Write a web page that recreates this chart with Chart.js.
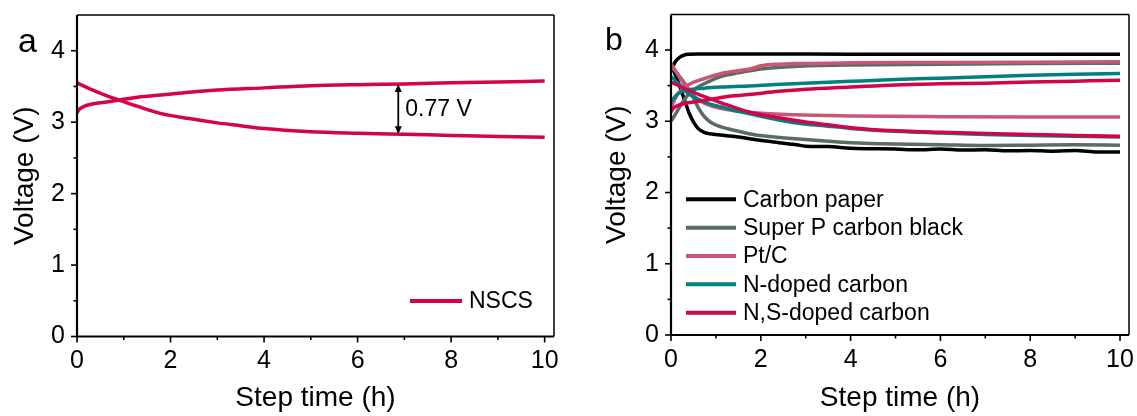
<!DOCTYPE html>
<html><head><meta charset="utf-8">
<script src="https://cdn.jsdelivr.net/npm/chart.js@4.4.1/dist/chart.umd.min.js"></script>
<style>
html,body{margin:0;padding:0;background:#fff;}
#wrap{position:relative;width:1137px;height:416px;overflow:hidden;}
#a{position:absolute;left:0;top:0;}
#b{position:absolute;left:568px;top:0;}
</style></head><body>
<div id="wrap"><canvas id="a" width="568" height="416"></canvas><canvas id="b" width="569" height="416"></canvas></div>
<script>
// ---- tick labels ----
const xTicks = [0, 2, 4, 6, 8, 10];
const yTicks = [0, 1, 2, 3, 4];
const xTitle = 'Step time (h)';
const yTitle = 'Voltage (V)';

// ---- NSCS / N,S-doped carbon ----
const nsChargeT = [0, 0.05, 0.15, 0.3, 0.6, 0.9, 1.3, 1.8, 2.4, 3, 4, 5, 6, 7, 8, 9, 10];
const nsChargeV = [3.13, 3.18, 3.22, 3.25, 3.28, 3.31, 3.35, 3.38, 3.42, 3.45, 3.48, 3.51, 3.525, 3.535, 3.55, 3.563, 3.576];
const nsDischT = [0, 0.3, 0.6, 0.9, 1.3, 1.8, 2.4, 3, 3.5, 4, 5, 6, 7, 8, 9, 10];
const nsDischV = [3.55, 3.46, 3.38, 3.31, 3.22, 3.12, 3.05, 2.99, 2.95, 2.91, 2.866, 2.845, 2.83, 2.815, 2.80, 2.788];

// ---- Carbon paper ----
const cpChargeT = [0, 0.05, 0.1, 0.2, 0.3, 0.4, 0.6, 1, 2, 4, 6, 8, 10];
const cpChargeV = [3.70, 3.78, 3.84, 3.90, 3.93, 3.94, 3.945, 3.945, 3.945, 3.94, 3.94, 3.94, 3.94];
const cpDischT = [0, 0.1, 0.2, 0.3, 0.4, 0.5, 0.6, 0.75, 0.9, 1.2, 1.5, 1.9, 2.4, 2.8, 3.0, 3.5, 4, 4.5, 5, 5.5, 6, 6.5, 7, 7.5, 8, 8.5, 9, 9.5, 10];
const cpDischV = [3.78, 3.65, 3.48, 3.30, 3.12, 2.99, 2.90, 2.84, 2.82, 2.80, 2.78, 2.74, 2.70, 2.67, 2.65, 2.645, 2.62, 2.615, 2.61, 2.60, 2.61, 2.595, 2.60, 2.585, 2.59, 2.58, 2.59, 2.57, 2.57];

// ---- Super P carbon black ----
const spChargeT = [0, 0.1, 0.24, 0.38, 0.55, 0.75, 1.12, 1.5, 1.86, 2.3, 2.75, 4, 6, 8, 10];
const spChargeV = [3.0, 3.1, 3.25, 3.37, 3.46, 3.53, 3.63, 3.68, 3.72, 3.75, 3.77, 3.79, 3.80, 3.81, 3.815];
const spDischT = [0, 0.1, 0.2, 0.38, 0.5, 0.6, 0.75, 0.9, 1.12, 1.5, 1.86, 2.3, 2.85, 3.5, 4, 5, 6, 7, 8, 9, 10];
const spDischV = [3.75, 3.70, 3.62, 3.46, 3.33, 3.20, 3.06, 2.98, 2.92, 2.86, 2.81, 2.78, 2.75, 2.72, 2.70, 2.68, 2.67, 2.66, 2.665, 2.67, 2.665];

// ---- Pt/C ----
const ptChargeT = [0, 0.08, 0.16, 0.38, 0.75, 1.12, 1.5, 1.8, 2.0, 2.3, 2.75, 4, 6, 8, 10];
const ptChargeV = [3.20, 3.30, 3.39, 3.51, 3.60, 3.67, 3.71, 3.74, 3.78, 3.80, 3.81, 3.82, 3.825, 3.83, 3.835];
const ptDischT = [0, 0.16, 0.38, 0.55, 0.75, 1.12, 1.86, 2.75, 4, 6, 8, 10];
const ptDischV = [3.81, 3.65, 3.44, 3.33, 3.25, 3.18, 3.12, 3.09, 3.075, 3.065, 3.06, 3.06];

// ---- N-doped carbon ----
const ndChargeT = [0, 0.16, 0.38, 0.75, 1.12, 1.86, 2.85, 4, 5, 6, 7, 8, 9, 10];
const ndChargeV = [3.28, 3.39, 3.44, 3.465, 3.48, 3.50, 3.53, 3.56, 3.585, 3.605, 3.625, 3.645, 3.66, 3.67];
const ndDischT = [0, 0.24, 0.38, 0.75, 1.12, 1.86, 2.75, 3.5, 4, 5, 6, 7, 8, 9, 10];
const ndDischV = [3.63, 3.48, 3.39, 3.27, 3.20, 3.09, 2.98, 2.93, 2.90, 2.86, 2.835, 2.815, 2.80, 2.79, 2.78];

// ---- annotation (panel a) ----
const gapArrow = { x: 6.87, top: 3.535, bottom: 2.83, label: '0.77 V' };

const C_NS = '#d3044b', C_PT = '#cd5574', C_SP = '#5a6c63', C_ND = '#008080', C_CP = '#000000';
const FONT = "'Liberation Sans', Arial, sans-serif";

function pts(T, V) { return T.map((t, i) => ({ x: t, y: V[i] })); }
function ds(label, T, V, color, order, showLegend, width) {
  return { label, data: pts(T, V), borderColor: color, backgroundColor: color, borderWidth: width,
    pointRadius: 0, cubicInterpolationMode: 'monotone', fill: false, order, showLegend };
}

const deco = {
  id: 'deco',
  afterDraw(chart, args, o) {
    const { ctx, chartArea: { left, right, top, bottom }, scales: { x, y } } = chart;
    ctx.save();
    ctx.strokeStyle = '#000';
    ctx.fillStyle = '#000';
    const ln = (x1, y1, x2, y2) => { ctx.beginPath(); ctx.moveTo(x1, y1); ctx.lineTo(x2, y2); ctx.stroke(); };
    ctx.lineWidth = 1.6;
    for (let v = 0; v <= 10; v += 1) { const px = x.getPixelForValue(v); ln(px, bottom, px, bottom + (v % 2 === 0 ? 6 : 3.5)); }
    for (let v = 0; v <= 4; v += 0.5) { const py = y.getPixelForValue(v); ln(left, py, left - (v % 1 === 0 ? 6 : 3.5), py); }
    ctx.lineWidth = 1.5;
    ln(left, top, right, top); ln(right, top, right, bottom);
    ctx.lineWidth = 2.2;
    ln(left, bottom + 1, left, top); ln(left - 1, bottom, right, bottom);
    // panel letter
    ctx.font = o.letterSize + 'px ' + FONT;
    ctx.textBaseline = 'alphabetic'; ctx.textAlign = 'left';
    ctx.fillText(o.letter, o.letterX, o.letterY);
    // legend
    const items = chart.data.datasets.filter(d => d.showLegend);
    ctx.font = o.legendSize + 'px ' + FONT;
    ctx.textBaseline = 'middle';
    items.forEach((d, i) => {
      const yy = o.legY + i * o.legStep;
      ctx.strokeStyle = d.borderColor; ctx.lineWidth = 4;
      ln(o.legX, yy, o.legX + o.legLen, yy);
      ctx.fillStyle = '#000';
      ctx.fillText(d.label, o.legX + o.legLen + 7, yy + 1);
    });
    // arrow annotation
    if (o.arrow) {
      const ax = x.getPixelForValue(o.arrow.x), at = y.getPixelForValue(o.arrow.top), ab = y.getPixelForValue(o.arrow.bottom);
      ctx.strokeStyle = '#000'; ctx.fillStyle = '#000'; ctx.lineWidth = 1.8;
      ln(ax, at + 5, ax, ab - 5);
      ctx.beginPath(); ctx.moveTo(ax, at); ctx.lineTo(ax - 3.5, at + 8); ctx.lineTo(ax + 3.5, at + 8); ctx.closePath(); ctx.fill();
      ctx.beginPath(); ctx.moveTo(ax, ab); ctx.lineTo(ax - 3.5, ab - 8); ctx.lineTo(ax + 3.5, ab - 8); ctx.closePath(); ctx.fill();
      ctx.font = '23px ' + FONT; ctx.textAlign = 'left'; ctx.textBaseline = 'middle';
      ctx.fillText(o.arrow.label, ax + 7, (at + ab) / 2 + 1);
    }
    ctx.restore();
  }
};

function makeOptions(yw, xh, pad, ytPad, xtPad, decoOpts) {
  return {
    responsive: false, animation: false, devicePixelRatio: 1,
    layout: { padding: pad },
    plugins: { legend: { display: false }, tooltip: { enabled: false }, deco: decoOpts },
    scales: {
      x: { type: 'linear', min: 0, max: 10.2,
        afterBuildTicks: s => { s.ticks = xTicks.map(v => ({ value: v })); },
        afterFit: s => { s.height = xh; s.paddingLeft = 0; s.paddingRight = 0; },
        grid: { display: false, drawTicks: false }, border: { display: false },
        ticks: { color: '#000', padding: 10, font: { family: FONT, size: 25 }, maxRotation: 0, autoSkip: false },
        title: { display: true, text: xTitle, color: '#000', font: { family: FONT, size: 28 }, padding: { top: 0, bottom: xtPad } } },
      y: { type: 'linear', min: 0, max: 4.5,
        afterBuildTicks: s => { s.ticks = yTicks.map(v => ({ value: v })); },
        afterFit: s => { s.width = yw; s.paddingTop = 0; s.paddingBottom = 0; },
        grid: { display: false, drawTicks: false }, border: { display: false },
        ticks: { color: '#000', padding: 12, font: { family: FONT, size: 25 } },
        title: { display: true, text: yTitle, color: '#000', font: { family: FONT, size: 28 }, padding: { top: ytPad, bottom: 0 } } }
    }
  };
}

new Chart(document.getElementById('a'), {
  type: 'line',
  data: { datasets: [
    ds('NSCS', nsChargeT, nsChargeV, C_NS, 0, true, 3.5),
    ds('NSCS', nsDischT, nsDischV, C_NS, 0, false, 3.5)
  ] },
  options: makeOptions(77, 79.5, { top: 15, right: 14, left: 0, bottom: 0 }, 8, 1,
    { letter: 'a', letterSize: 34, letterX: 18, letterY: 52, legendSize: 23, legX: 410, legY: 301, legStep: 28.3, legLen: 52, arrow: gapArrow }),
  plugins: [deco]
});

new Chart(document.getElementById('b'), {
  type: 'line',
  data: { datasets: [
    ds('Carbon paper', cpChargeT, cpChargeV, C_CP, 4, true, 3.5),
    ds('Carbon paper', cpDischT, cpDischV, C_CP, 4, false, 3.5),
    ds('Super P carbon black', spChargeT, spChargeV, C_SP, 3, true, 3.5),
    ds('Super P carbon black', spDischT, spDischV, C_SP, 3, false, 3.5),
    ds('Pt/C', ptChargeT, ptChargeV, C_PT, 2, true, 3.5),
    ds('Pt/C', ptDischT, ptDischV, C_PT, 2, false, 3.5),
    ds('N-doped carbon', ndChargeT, ndChargeV, C_ND, 1, true, 3.5),
    ds('N-doped carbon', ndDischT, ndDischV, C_ND, 1, false, 3.5),
    ds('N,S-doped carbon', nsChargeT, nsChargeV, C_NS, 0, true, 3.5),
    ds('N,S-doped carbon', nsDischT, nsDischV, C_NS, 0, false, 3.5)
  ] },
  options: makeOptions(103, 81, { top: 14.4, right: 8, left: 0, bottom: 0 }, 32, 1,
    { letter: 'b', letterSize: 32, letterX: 37, letterY: 50, legendSize: 23, legX: 118, legY: 199.3, legStep: 28.35, legLen: 50, arrow: null }),
  plugins: [deco]
});
</script>
</body></html>
